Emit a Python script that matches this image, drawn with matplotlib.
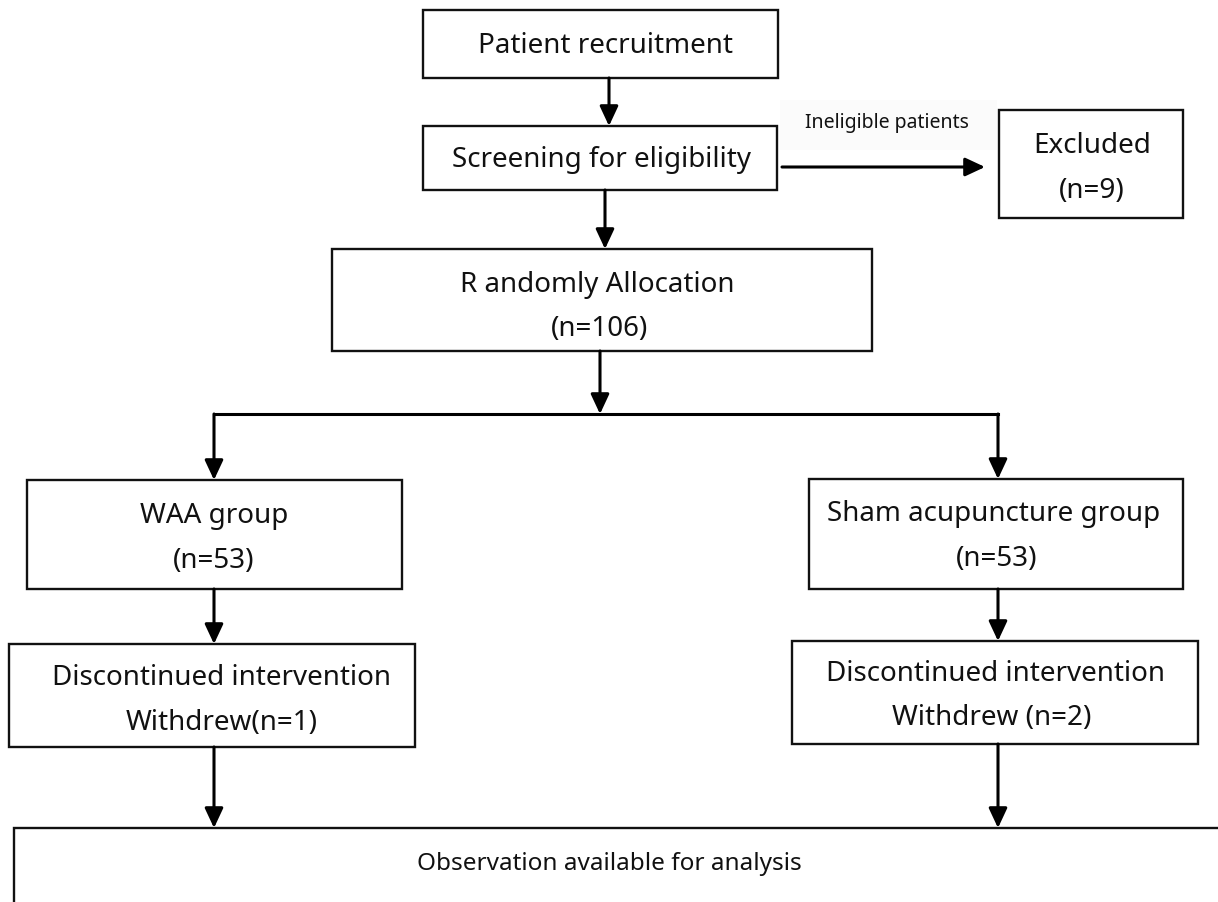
"""Flow chart: patient recruitment -> randomisation -> two arms -> analysis."""
import matplotlib
matplotlib.use("Agg")
import matplotlib.pyplot as plt
from matplotlib.patches import Rectangle, FancyArrowPatch

plt.rcParams["font.family"] = ["Noto Sans", "DejaVu Sans"]

# box labels (one list entry per line of text)
recruit_lines = ["Patient recruitment"]
screen_lines = ["Screening for eligibility"]
excluded_lines = ["Excluded", "(n=9)"]
excluded_note = "Ineligible patients"
random_lines = ["R andomly Allocation", "(n=106)"]
waa_lines = ["WAA group", "(n=53)"]
sham_lines = ["Sham acupuncture group", "(n=53)"]
waa_drop_lines = ["Discontinued intervention", "Withdrew(n=1)"]
sham_drop_lines = ["Discontinued intervention", "Withdrew (n=2)"]
final_lines = ["Observation available for analysis"]

# layout in pixel coords (x0, y0, x1, y1), y grows downward
BOX = {
    "recruit": (423, 10, 778, 78),
    "screen": (423, 126, 777, 190),
    "excluded": (999, 110, 1183, 218),
    "random": (332, 249, 872, 351),
    "waa": (27, 480, 402, 589),
    "sham": (809, 479, 1183, 589),
    "waa_drop": (9, 644, 415, 747),
    "sham_drop": (792, 641, 1198, 744),
    "final": (14, 828, 1240, 940),
}
# text centres for each line: (x, y)
TEXT_POS = {
    "recruit": [(605, 46)],
    "screen": [(601, 160)],
    "excluded": [(1092, 146), (1092, 191)],
    "random": [(597, 285), (600, 329)],
    "waa": [(214, 516), (214, 561)],
    "sham": [(994, 514), (997, 559)],
    "waa_drop": [(221, 678), (222, 723)],
    "sham_drop": [(995, 674), (992, 718)],
    "final": [(609, 864)],
}
LABELS = {
    "recruit": recruit_lines,
    "screen": screen_lines,
    "excluded": excluded_lines,
    "random": random_lines,
    "waa": waa_lines,
    "sham": sham_lines,
    "waa_drop": waa_drop_lines,
    "sham_drop": sham_drop_lines,
    "final": final_lines,
}

W, H = 1218, 902
fig = plt.figure(figsize=(W / 100, H / 100), dpi=100)
ax = fig.add_axes([0, 0, 1, 1])
ax.set_xlim(0, W)
ax.set_ylim(H, 0)
ax.axis("off")

FS = 20
FS_FINAL = 17.5

for key, (x0, y0, x1, y1) in BOX.items():
    ax.add_patch(Rectangle((x0, y0), x1 - x0, y1 - y0, facecolor="white",
                           edgecolor="#111111", lw=1.7, zorder=2))
    fs = FS_FINAL if key == "final" else FS
    for (tx, ty), s in zip(TEXT_POS[key], LABELS[key]):
        ax.text(tx, ty, s, ha="center", va="center", fontsize=fs,
                color="#111111", zorder=3)


def arrow(x0, y0, x1, y1):
    ax.add_patch(FancyArrowPatch((x0, y0), (x1, y1),
                                 arrowstyle="-|>,head_length=0.6,head_width=0.28",
                                 mutation_scale=20, lw=2.2, color="black",
                                 shrinkA=0, shrinkB=0, zorder=4))


def line(xs, ys):
    ax.plot(xs, ys, color="black", lw=2.2, solid_capstyle="projecting", zorder=4)


# vertical trunk
arrow(609, 78, 609, 126)
arrow(605, 190, 605, 249)
arrow(600, 351, 600, 414)

# side branch to excluded
ax.add_patch(Rectangle((780, 100), 217, 50, facecolor="#fbfbfb",
                       edgecolor="none", zorder=1))
ax.text(887, 123, excluded_note, ha="center", va="center", fontsize=14,
        color="#111111", zorder=3)
arrow(782, 167, 985, 167)

# split into two arms
line([214, 998], [414, 414])
arrow(214, 414, 214, 480)
arrow(998, 414, 998, 479)
arrow(214, 589, 214, 644)
arrow(998, 589, 998, 641)
arrow(214, 747, 214, 828)
arrow(998, 744, 998, 828)

fig.savefig("out.png", dpi=100, facecolor="white")
